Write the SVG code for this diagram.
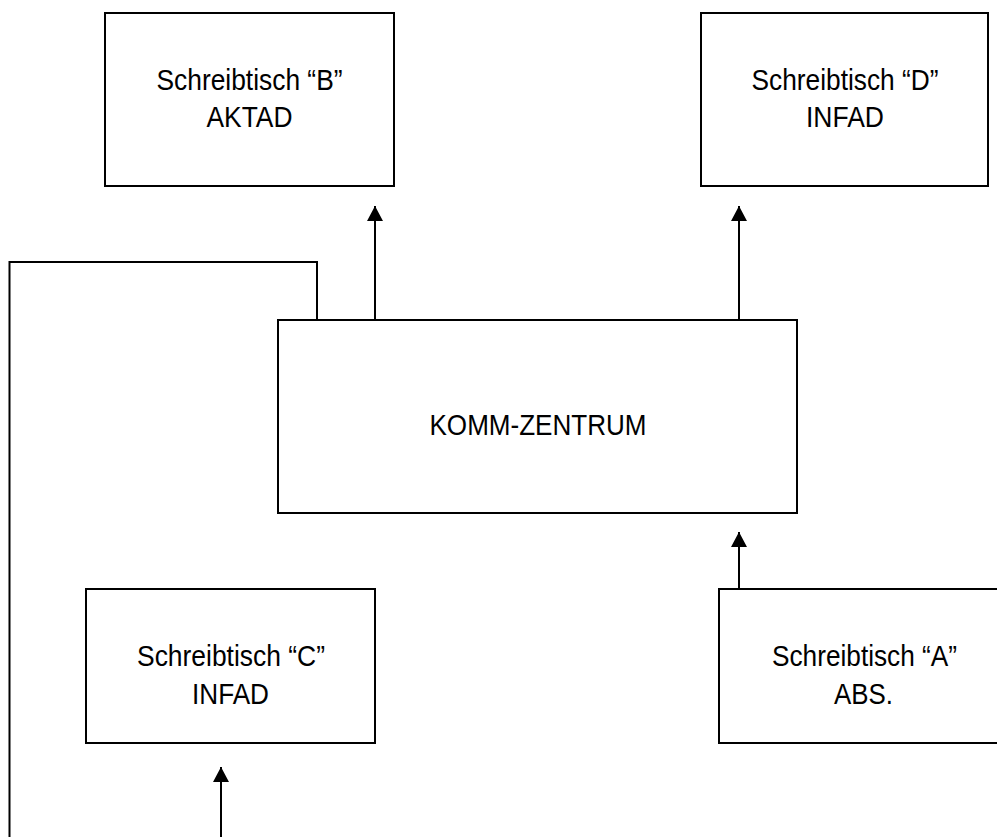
<svg xmlns="http://www.w3.org/2000/svg" width="997" height="837" viewBox="0 0 997 837">
<style>
.box{fill:#fff;stroke:#000;stroke-width:2}
.lbl{font-family:"Liberation Sans",Arial,sans-serif;font-size:29px;fill:#000;text-anchor:middle}
.con{fill:none;stroke:#000;stroke-width:2}
</style>
<defs>
<marker id="ah" viewBox="0 0 15 16" refX="15" refY="8" markerWidth="15" markerHeight="16" markerUnits="userSpaceOnUse" orient="auto">
<path d="M0,0 L15,8 L0,16 z" fill="#000"/>
</marker>
</defs>
<rect width="997" height="837" fill="#fff"/>
<g id="connectors">
<path class="con" d="M317,320 V262 H9.5 V840"/>
<line class="con" x1="375" y1="320" x2="375" y2="206" marker-end="url(#ah)"/>
<line class="con" x1="739" y1="320" x2="739" y2="206" marker-end="url(#ah)"/>
<line class="con" x1="739" y1="589" x2="739" y2="532" marker-end="url(#ah)"/>
<line class="con" x1="221" y1="840" x2="221" y2="767" marker-end="url(#ah)"/>
</g>
<g id="nodeB">
<rect class="box" x="105" y="13" width="289" height="173"/>
<text class="lbl" x="249.5" y="90" textLength="186" lengthAdjust="spacingAndGlyphs">Schreibtisch “B”</text>
<text class="lbl" x="249.5" y="127" textLength="86" lengthAdjust="spacingAndGlyphs">AKTAD</text>
</g>
<g id="nodeD">
<rect class="box" x="701" y="13" width="287" height="173"/>
<text class="lbl" x="845" y="90" textLength="187" lengthAdjust="spacingAndGlyphs">Schreibtisch “D”</text>
<text class="lbl" x="845" y="127" textLength="78" lengthAdjust="spacingAndGlyphs">INFAD</text>
</g>
<g id="nodeKomm">
<rect class="box" x="278" y="320" width="519" height="193"/>
<text class="lbl" x="538" y="435" textLength="217" lengthAdjust="spacingAndGlyphs">KOMM-ZENTRUM</text>
</g>
<g id="nodeC">
<rect class="box" x="86" y="589" width="289" height="154"/>
<text class="lbl" x="231" y="666" textLength="188" lengthAdjust="spacingAndGlyphs">Schreibtisch “C”</text>
<text class="lbl" x="230.5" y="704" textLength="77" lengthAdjust="spacingAndGlyphs">INFAD</text>
</g>
<g id="nodeA">
<rect class="box" x="719" y="589" width="300" height="154"/>
<text class="lbl" x="864.5" y="666" textLength="185" lengthAdjust="spacingAndGlyphs">Schreibtisch “A”</text>
<text class="lbl" x="863.5" y="704" textLength="59" lengthAdjust="spacingAndGlyphs">ABS.</text>
</g>
</svg>
